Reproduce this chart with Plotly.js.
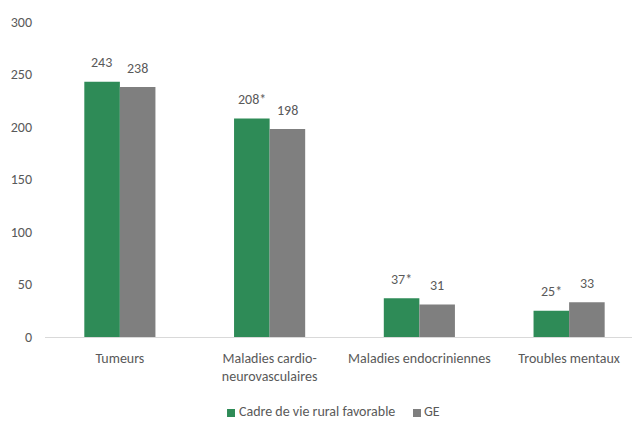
<!DOCTYPE html>
<html>
<head>
<meta charset="utf-8">
<script src="https://cdn.plot.ly/plotly-3.0.1.min.js"></script>
<style>
  html, body { margin: 0; padding: 0; background: #fff; }
  #chart { width: 632px; height: 421px; }
</style>
</head>
<body>
<div id="chart"></div>
<script>
// Causes de décès : cadre de vie rural favorable vs Grand Est
const categories = ["Tumeurs", "Maladies cardio-<br>neurovasculaires", "Maladies endocriniennes", "Troubles mentaux"];
const seriesNames = ["Cadre de vie rural favorable", "GE"];
const ruralValues = [243, 208, 37, 25];
const ruralSignificant = [false, true, true, true];
const geValues = [238, 198, 31, 33];

const FONT = "Carlito, 'Liberation Sans Narrow', 'DejaVu Sans Condensed', 'Open Sans', sans-serif";
const TEXT_COLOR = "#595959";
const GREEN = "#2E8B57";
const GREY = "#7F7F7F";
const seriesColors = [GREEN, GREY];

const ruralLabels = ruralValues.map((v, i) => v + (ruralSignificant[i] ? "*" : ""));
const geLabels = geValues.map(v => String(v));

const traces = [
  { type: "bar", name: seriesNames[0], x: categories, y: ruralValues,
    marker: { color: GREEN }, hoverinfo: "none", showlegend: false },
  { type: "bar", name: seriesNames[1], x: categories, y: geValues,
    marker: { color: GREY }, hoverinfo: "none", showlegend: false }
];

// Value labels sit above each bar, shifted onto the left/right bar of the pair
const BAR_SHIFT = 18;
const annotations = [];
categories.forEach((c, i) => {
  annotations.push({ x: c, y: ruralValues[i], text: ruralLabels[i], xshift: -BAR_SHIFT, yshift: 19,
    showarrow: false, font: { family: FONT, size: 14, color: TEXT_COLOR } });
  annotations.push({ x: c, y: geValues[i], text: geLabels[i], xshift: BAR_SHIFT, yshift: 19,
    showarrow: false, font: { family: FONT, size: 14, color: TEXT_COLOR } });
});

// Compact legend below the axis: a small square swatch followed by the series name
const legendItems = [
  { swatchX: 0.3101, textX: 0.3288 },
  { swatchX: 0.6269, textX: 0.6440 }
];
const SWATCH_W = 0.0136;
const shapes = [];
legendItems.forEach((item, i) => {
  shapes.push({ type: "rect", xref: "paper", yref: "paper",
    x0: item.swatchX, x1: item.swatchX + SWATCH_W, y0: -0.2540, y1: -0.2286,
    fillcolor: seriesColors[i], line: { width: 0 } });
  annotations.push({ xref: "paper", yref: "paper", x: item.textX, y: -0.2667,
    xanchor: "left", yanchor: "bottom", borderpad: 0, showarrow: false, text: seriesNames[i],
    font: { family: FONT, size: 14, color: TEXT_COLOR } });
});

const layout = {
  width: 632, height: 421,
  margin: { l: 45, r: 0, t: 22, b: 84 },
  paper_bgcolor: "#fff", plot_bgcolor: "#fff",
  font: { family: FONT, size: 14, color: TEXT_COLOR },
  barmode: "group",
  bargap: 0.525, bargroupgap: 0,
  showlegend: false,
  xaxis: { type: "category", range: [-0.5, 3.42], showgrid: false, zeroline: false, automargin: false,
    showline: false, ticks: "", ticklabelstandoff: 11,
    tickfont: { family: FONT, size: 14, color: TEXT_COLOR } },
  yaxis: { range: [0, 300], dtick: 50, showgrid: false, zeroline: true, zerolinecolor: "#D9D9D9",
    zerolinewidth: 1, showline: false, ticks: "", automargin: false, ticklabelstandoff: 12,
    tickfont: { family: FONT, size: 14, color: TEXT_COLOR } },
  shapes: shapes,
  annotations: annotations
};

Plotly.newPlot("chart", traces, layout, { displayModeBar: false, staticPlot: true });
</script>
</body>
</html>
